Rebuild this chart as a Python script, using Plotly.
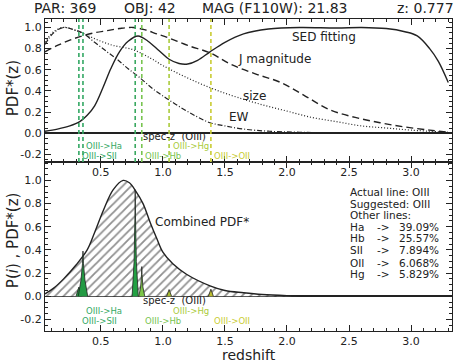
import plotly.graph_objects as go

# ---- data ----
z_grid_sed = [0.05, 0.15, 0.25, 0.33, 0.39, 0.45, 0.52, 0.58, 0.65, 0.72, 0.80, 0.88, 0.97,
              1.05, 1.13, 1.20, 1.28, 1.38, 1.50, 1.65, 1.85, 2.10, 2.40, 2.60, 2.80, 2.95,
              3.05, 3.15, 3.22, 3.30]
pdf_sed = [0.02, 0.04, 0.07, 0.11, 0.17, 0.26, 0.44, 0.61, 0.77, 0.87, 0.92, 0.87, 0.78,
           0.70, 0.66, 0.655, 0.69, 0.77, 0.86, 0.94, 0.985, 1.0, 0.995, 1.0, 0.99, 0.96,
           0.92, 0.80, 0.68, 0.48]

z_grid_j = [0.05, 0.15, 0.25, 0.35, 0.45, 0.55, 0.65, 0.76, 0.85, 0.95, 1.05, 1.20, 1.38,
            1.55, 1.75, 1.95, 2.15, 2.35, 2.55, 2.75, 2.95, 3.15, 3.30]
pdf_j = [0.77, 0.83, 0.88, 0.92, 0.95, 0.97, 0.99, 1.0, 0.98, 0.94, 0.90, 0.83, 0.76,
         0.65, 0.56, 0.48, 0.35, 0.22, 0.15, 0.10, 0.06, 0.03, 0.01]

z_grid_size = [0.05, 0.12, 0.20, 0.30, 0.40, 0.50, 0.60, 0.76, 0.90, 1.00, 1.15, 1.30,
               1.45, 1.60, 1.80, 2.00, 2.20, 2.40, 2.60, 2.80, 3.00, 3.30]
pdf_size = [0.86, 0.96, 1.0, 0.97, 0.92, 0.87, 0.83, 0.79, 0.71, 0.64, 0.55, 0.47,
            0.40, 0.34, 0.27, 0.21, 0.15, 0.11, 0.07, 0.05, 0.03, 0.01]

z_grid_ew = [0.05, 0.12, 0.20, 0.28, 0.35, 0.45, 0.55, 0.63, 0.72, 0.81, 0.92, 1.03, 1.15,
             1.27, 1.38, 1.50, 1.65, 1.85, 2.10, 2.50, 3.30]
pdf_ew = [0.84, 0.95, 1.0, 0.98, 0.95, 0.86, 0.77, 0.70, 0.61, 0.53, 0.42, 0.33, 0.24,
          0.16, 0.10, 0.07, 0.04, 0.02, 0.01, 0.005, 0.0]

z_grid_comb = [0.05, 0.12, 0.20, 0.30, 0.39, 0.45, 0.52, 0.60, 0.68, 0.73, 0.78, 0.84,
               0.90, 0.95, 1.00, 1.08, 1.19, 1.38, 1.50, 1.65, 1.80, 2.00, 2.20]
pdf_comb = [0.02, 0.07, 0.15, 0.27, 0.40, 0.55, 0.74, 0.92, 1.0, 0.98, 0.91, 0.80,
            0.63, 0.50, 0.38, 0.28, 0.19, 0.09, 0.05, 0.03, 0.015, 0.005, 0.0]

spec_z = 0.777
line_names = ["SII", "Ha", "OIII", "Hb", "Hg", "OII"]
line_z = [0.323, 0.356, 0.777, 0.830, 1.050, 1.387]
line_colors = ["#33a864", "#33a864", "#3aa860", "#78c450", "#aacb3c", "#c9cc33"]

# individual line probability spikes (bottom panel)
spike_x = {
    "SII": [0.300, 0.323, 0.346],
    "Ha": [0.318, 0.340, 0.352, 0.356, 0.360, 0.372, 0.394],
    "OIII": [0.752, 0.768, 0.775, 0.777, 0.779, 0.786, 0.802],
    "Hb": [0.806, 0.821, 0.828, 0.830, 0.832, 0.839, 0.854],
    "Hg": [1.030, 1.050, 1.070],
    "OII": [1.367, 1.387, 1.407],
}
spike_y = {
    "SII": [0.0, 0.079, 0.0],
    "Ha": [0.0, 0.14, 0.28, 0.39, 0.28, 0.14, 0.0],
    "OIII": [0.0, 0.30, 0.70, 0.92, 0.70, 0.30, 0.0],
    "Hb": [0.0, 0.08, 0.19, 0.256, 0.19, 0.08, 0.0],
    "Hg": [0.0, 0.058, 0.0],
    "OII": [0.0, 0.061, 0.0],
}
spike_fill = {"SII": "#239a43", "Ha": "#239a43", "OIII": "#23a043",
              "Hb": "#7cc447", "Hg": "#a9bd33", "OII": "#bcbd30"}

other_lines = ["Ha", "Hb", "SII", "OII", "Hg"]
other_pct = ["39.09%", "25.57%", "7.894%", "6.068%", "5.829%"]

header = ["PAR: 369", "OBJ: 42", "MAG (F110W): 21.83", "z: 0.777"]

x_ticks = [0.5, 1.0, 1.5, 2.0, 2.5, 3.0]
x_ticktext = ["0.5", "1.0", "1.5", "2.0", "2.5", "3.0"]
y_ticks = [-0.2, 0.0, 0.2, 0.4, 0.6, 0.8, 1.0]
y_ticktext = ["-0.2", "0.0", "0.2", "0.4", "0.6", "0.8", "1.0"]

FONT = "DejaVu Sans"
INK = "#222"

fig = go.Figure()

# ---- top panel ----
fig.add_trace(go.Scatter(x=z_grid_sed, y=pdf_sed, mode="lines", line_shape="spline",
                         line=dict(color=INK, width=1.4), xaxis="x", yaxis="y"))
fig.add_trace(go.Scatter(x=z_grid_j, y=pdf_j, mode="lines", line_shape="spline",
                         line=dict(color=INK, width=1.4, dash="7px,4px"), xaxis="x", yaxis="y"))
fig.add_trace(go.Scatter(x=z_grid_size, y=pdf_size, mode="lines", line_shape="spline",
                         line=dict(color=INK, width=1.2, dash="1px,2px"), xaxis="x", yaxis="y"))
fig.add_trace(go.Scatter(x=z_grid_ew, y=pdf_ew, mode="lines", line_shape="spline",
                         line=dict(color=INK, width=1.2, dash="5px,2px,1px,2px"),
                         xaxis="x", yaxis="y"))

for zl, c in zip(line_z, line_colors):
    fig.add_shape(type="line", xref="x", yref="y domain", x0=zl, x1=zl, y0=0, y1=1,
                  line=dict(color=c, width=1.6, dash="4px,3px"))

# ---- bottom panel ----
fig.add_trace(go.Scatter(x=z_grid_comb, y=pdf_comb, mode="lines", line_shape="spline",
                         fill="tozeroy", fillcolor="white",
                         fillpattern=dict(shape="/", fgcolor="#222", bgcolor="white",
                                          size=6, solidity=0.3),
                         line=dict(color=INK, width=1.4), xaxis="x2", yaxis="y2"))
for name in line_names:
    fig.add_trace(go.Scatter(x=spike_x[name], y=spike_y[name], mode="lines",
                             fill="tozeroy", fillcolor=spike_fill[name],
                             line=dict(color=INK, width=0.8), xaxis="x2", yaxis="y2"))

# line labels in both panels
label_text = ["OIII->SII", "OIII->Ha", None, "OIII->Hb", "OIII->Hg", "OIII->OII"]
label_row = [1, 0, None, 1, 0, 1]
ann = []
for yr, rows, specy in (("y", (-0.122, -0.216), -0.028), ("y2", (-0.13, -0.215), -0.04)):
    xr = "x" if yr == "y" else "x2"
    for zl, t, r, c in zip(line_z, label_text, label_row, line_colors):
        if t is None:
            continue
        ann.append(dict(x=zl + 0.012, y=rows[r], xref=xr, yref=yr, text=t, showarrow=False,
                        xanchor="left", yanchor="middle",
                        font=dict(family=FONT, size=8.5, color=c)))
    ann.append(dict(x=spec_z + 0.045, y=specy, xref=xr, yref=yr, text="spec-z  (OIII)",
                    showarrow=False, xanchor="left", yanchor="middle",
                    font=dict(family=FONT, size=10, color=INK)))

# curve labels
for t, x, y in (("SED fitting", 2.30, 0.91), ("J magnitude", 1.90, 0.70),
                ("size", 1.74, 0.35), ("EW", 1.61, 0.15)):
    ann.append(dict(x=x, y=y, xref="x", yref="y", text=t, showarrow=False,
                    xanchor="center", yanchor="middle",
                    font=dict(family=FONT, size=12, color=INK)))
ann.append(dict(x=0.92, y=0.64, xref="x2", yref="y2", text="Combined PDF*", showarrow=False,
                xanchor="left", yanchor="middle", font=dict(family=FONT, size=12, color=INK)))

# right-side summary text
summary = ["Actual line: OIII", "Suggested: OIII", "Other lines:"]
sum_y = [0.90, 0.80, 0.70, 0.60, 0.50, 0.40, 0.29, 0.19]
for t, y in zip(summary, sum_y):
    ann.append(dict(x=2.49, y=y, xref="x2", yref="y2", text=t, showarrow=False,
                    xanchor="left", yanchor="middle", font=dict(family=FONT, size=10.5, color=INK)))
for n, p, y in zip(other_lines, other_pct, sum_y[3:]):
    for t, x in ((n, 2.49), ("->", 2.71), (p, 2.89)):
        ann.append(dict(x=x, y=y, xref="x2", yref="y2", text=t, showarrow=False,
                        xanchor="left", yanchor="middle",
                        font=dict(family=FONT, size=10.5, color=INK)))

# header row
for t, x in zip(header, [0.049, 0.258, 0.565, 0.934]):
    ann.append(dict(x=x, y=1.035, xref="paper", yref="paper", text=t, showarrow=False,
                    xanchor="center", yanchor="middle",
                    font=dict(family=FONT, size=14, color=INK)))

# axis titles
ann.append(dict(x=-0.078, y=0.779, xref="paper", yref="paper", text="PDF*(z)", textangle=-90,
                xanchor="center", yanchor="middle",
                showarrow=False, font=dict(family=FONT, size=15, color=INK)))
ann.append(dict(x=-0.078, y=0.292, xref="paper", yref="paper",
                text="P(<i>i</i>) , PDF*(z)", textangle=-90, xanchor="center", yanchor="middle",
                showarrow=False, font=dict(family=FONT, size=15, color=INK)))
ann.append(dict(x=0.5, y=-0.078, xref="paper", yref="paper", text="redshift",
                xanchor="center", yanchor="middle",
                showarrow=False, font=dict(family=FONT, size=14, color=INK)))

xcommon = dict(range=[0.05, 3.33], showline=True, linecolor=INK, linewidth=1.3,
               mirror="allticks", ticks="inside", ticklen=6, tickcolor=INK,
               tickmode="array", tickvals=x_ticks, ticktext=x_ticktext,
               showgrid=False, zeroline=False, automargin=False,
               minor=dict(ticks="inside", ticklen=3, tick0=0, dtick=0.1, tickcolor=INK,
                          showgrid=False),
               tickfont=dict(family=FONT, size=11, color=INK))
ycommon = dict(showline=True, linecolor=INK, linewidth=1.3, mirror="allticks",
               ticks="inside", ticklen=6, tickcolor=INK,
               tickmode="array", tickvals=y_ticks, ticktext=y_ticktext,
               showgrid=False, zeroline=True, zerolinecolor=INK, zerolinewidth=1.6,
               automargin=False,
               minor=dict(ticks="inside", ticklen=3, tick0=0, dtick=0.05, tickcolor=INK,
                          showgrid=False),
               tickfont=dict(family=FONT, size=11, color=INK))

fig.update_layout(
    width=463, height=362,
    margin=dict(l=45, r=11, t=19, b=31, autoexpand=False),
    paper_bgcolor="white", plot_bgcolor="white", showlegend=False,
    xaxis=dict(xcommon, domain=[0, 1], anchor="y"),
    yaxis=dict(ycommon, domain=[0.542, 1], range=[-0.27, 1.08], anchor="x"),
    xaxis2=dict(xcommon, domain=[0, 1], anchor="y2"),
    yaxis2=dict(ycommon, domain=[0, 0.542], range=[-0.3, 1.16], anchor="x2"),
    annotations=ann,
)

# the page body has a default margin; drop it so the figure sits at the window corner
fig.write_html("out.html", config={"displayModeBar": False},
               post_script="document.body.style.margin='0';")
